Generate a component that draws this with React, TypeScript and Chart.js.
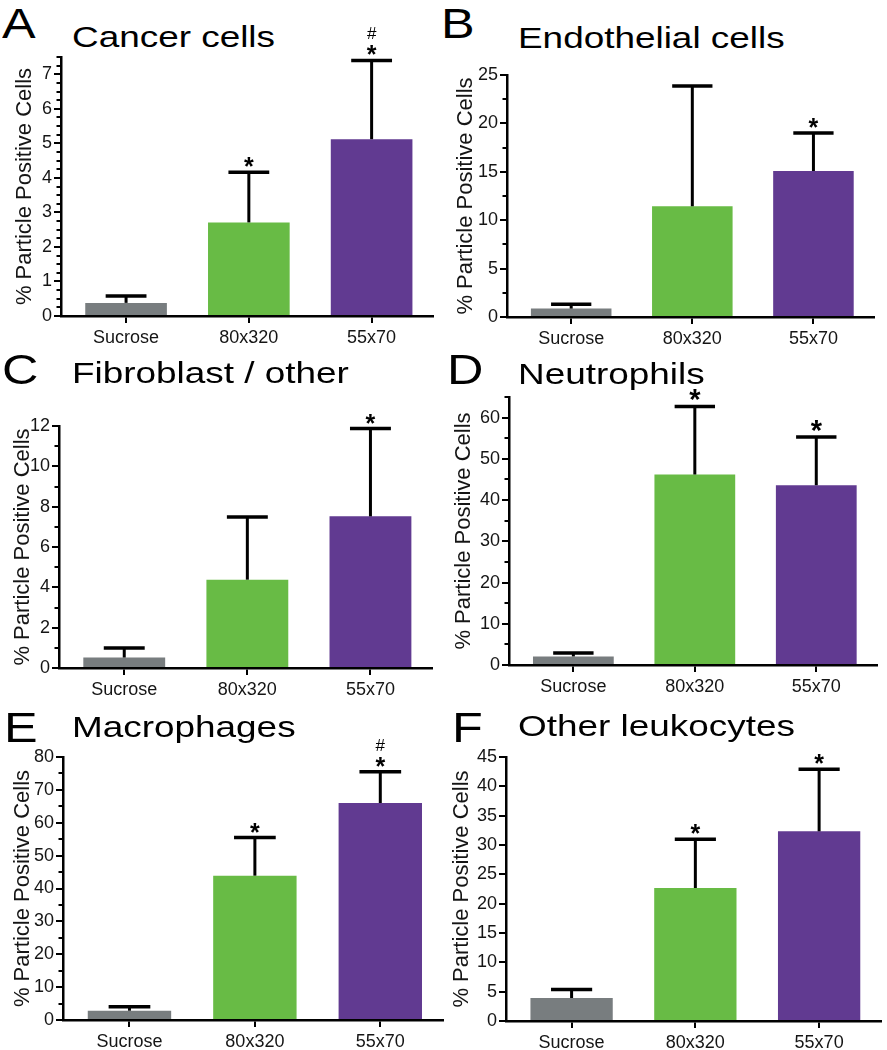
import React, { useEffect, useRef } from 'react';
import { Chart, registerables } from 'chart.js';

Chart.register(...registerables);

const FONT = "'Liberation Sans', Arial, Helvetica, sans-serif";
Chart.defaults.font.family = FONT;
Chart.defaults.color = '#111';

// ---------- data ----------
const categories = ['Sucrose', '80x320', '55x70'];
const barColors = ['#787d7f', '#68bb45', '#613a91'];
const yAxisTitle = '% Particle Positive Cells';

// A – Cancer cells
const cancerMean = [0.38, 2.71, 5.12];
const cancerErr = [0.2, 1.45, 2.28];
const cancerMarks = ['', '*', '*#'];
const cancerAxis = [7.5, 1, 0.25]; // max, major step, minor step

// B – Endothelial cells
const endoMean = [0.87, 11.44, 15.08];
const endoErr = [0.44, 12.43, 3.92];
const endoMarks = ['', '', '*'];
const endoAxis = [25, 5, 2.5];

// C – Fibroblast / other
const fibroMean = [0.52, 4.38, 7.52];
const fibroErr = [0.47, 3.11, 4.35];
const fibroMarks = ['', '', '*'];
const fibroAxis = [12, 2, 1];

// D – Neutrophils
const neutroMean = [2.08, 46.2, 43.6];
const neutroErr = [0.82, 16.5, 11.7];
const neutroMarks = ['', '*', '*'];
const neutroAxis = [65, 10, 5];

// E – Macrophages
const macroMean = [2.83, 43.9, 66.0];
const macroErr = [1.22, 11.6, 9.5];
const macroMarks = ['', '*', '*#'];
const macroAxis = [80, 10, 5];

// F – Other leukocytes
const leukoMean = [3.92, 22.67, 32.33];
const leukoErr = [1.43, 8.3, 10.57];
const leukoMarks = ['', '*', '*'];
const leukoAxis = [45, 5, 0];

const panels = [
  { letter: 'A', title: 'Cancer cells', mean: cancerMean, err: cancerErr, marks: cancerMarks, axis: cancerAxis },
  { letter: 'B', title: 'Endothelial cells', mean: endoMean, err: endoErr, marks: endoMarks, axis: endoAxis },
  { letter: 'C', title: 'Fibroblast / other', mean: fibroMean, err: fibroErr, marks: fibroMarks, axis: fibroAxis },
  { letter: 'D', title: 'Neutrophils', mean: neutroMean, err: neutroErr, marks: neutroMarks, axis: neutroAxis },
  { letter: 'E', title: 'Macrophages', mean: macroMean, err: macroErr, marks: macroMarks, axis: macroAxis },
  { letter: 'F', title: 'Other leukocytes', mean: leukoMean, err: leukoErr, marks: leukoMarks, axis: leukoAxis },
];

// ---------- layout / style ----------
const layouts = [
  { L: 61, R: 433, T: 57, B: 316, gap: 36, lx: 2, lb: 39, tx: 72, tb: 47, star: 25 },
  { L: 507, R: 874, T: 75, B: 317, gap: 41, lx: 441, lb: 39, tx: 518, tb: 48, star: 25 },
  { L: 59, R: 432, T: 426, B: 668, gap: 36, lx: 2, lb: 385, tx: 72, tb: 383, star: 25 },
  { L: 509, R: 877, T: 397, B: 665, gap: 45, lx: 447, lb: 385, tx: 518, tb: 384, star: 29 },
  { L: 63, R: 443, T: 757, B: 1020, gap: 40, lx: 4, lb: 743, tx: 72, tb: 737, star: 25 },
  { L: 506, R: 881, T: 757, B: 1021, gap: 44, lx: 452, lb: 743, tx: 518, tb: 736, star: 25 },
];

const Y_W = 62;
const X_H = 44;
const PAD_TOP = 40;
const PAD_RIGHT = 4;

const errorBarPlugin = {
  id: 'errBars',
  afterDatasetsDraw(chart: any, _args: any, opts: any) {
    const { ctx } = chart;
    const meta = chart.getDatasetMeta(0);
    const ys = chart.scales.y;
    const ds = chart.data.datasets[0].data;
    ctx.save();
    ctx.strokeStyle = '#000';
    ctx.fillStyle = '#000';
    ctx.lineCap = 'butt';
    meta.data.forEach((el: any, i: number) => {
      const { x, y, width } = el.getProps(['x', 'y', 'width'], true);
      const top = ys.getPixelForValue(ds[i].y + opts.err[i]);
      ctx.lineWidth = 3;
      ctx.beginPath();
      ctx.moveTo(x, y);
      ctx.lineTo(x, top);
      ctx.stroke();
      ctx.lineWidth = 3.5;
      ctx.beginPath();
      ctx.moveTo(x - width / 4, top);
      ctx.lineTo(x + width / 4, top);
      ctx.stroke();
      const mark: string = opts.marks[i] || '';
      ctx.textAlign = 'center';
      ctx.textBaseline = 'alphabetic';
      if (mark.includes('*')) {
        ctx.font = `bold ${opts.star}px ${FONT}`;
        ctx.fillText('*', x, top + 3);
      }
      if (mark.includes('#')) {
        ctx.font = `17px ${FONT}`;
        ctx.fillText('#', x, top - 21);
      }
    });
    ctx.restore();
  },
};

const minorTickPlugin = {
  id: 'minorTicks',
  afterDraw(chart: any, _args: any, opts: any) {
    const step = opts.step;
    if (!step) return;
    const ys = chart.scales.y;
    const left = chart.chartArea.left;
    const ctx = chart.ctx;
    ctx.save();
    ctx.strokeStyle = '#000';
    ctx.lineWidth = 2;
    const n = Math.round(ys.max / step);
    for (let k = 0; k <= n; k++) {
      const v = k * step;
      const r = v / opts.major;
      if (Math.abs(r - Math.round(r)) < 1e-6) continue;
      const py = Math.round(ys.getPixelForValue(v));
      ctx.beginPath();
      ctx.moveTo(left - 4.5, py);
      ctx.lineTo(left, py);
      ctx.stroke();
    }
    ctx.restore();
  },
};

function Panel({ p, lay }: { p: any; lay: any }) {
  const ref = useRef<HTMLCanvasElement>(null);
  const cw = Y_W + (lay.R - lay.L) + PAD_RIGHT;
  const ch = PAD_TOP + (lay.B - lay.T) + X_H;

  useEffect(() => {
    const [yMax, major, minor] = p.axis;
    const chart = new Chart(ref.current as HTMLCanvasElement, {
      type: 'bar',
      data: {
        datasets: [
          {
            data: p.mean.map((v: number, i: number) => ({ x: i, y: v })),
            backgroundColor: barColors,
            borderWidth: 0,
            barPercentage: 0.665,
            categoryPercentage: 1,
          } as any,
        ],
      },
      options: {
        responsive: false,
        animation: false,
        devicePixelRatio: 1,
        layout: { padding: { left: 0, right: PAD_RIGHT, top: PAD_TOP, bottom: 0 } },
        plugins: {
          legend: { display: false },
          tooltip: { enabled: false },
          title: { display: false },
          errBars: { err: p.err, marks: p.marks, star: lay.star },
          minorTicks: { step: minor, major },
        } as any,
        scales: {
          x: {
            type: 'linear',
            min: -0.53,
            max: 2.5,
            offset: false,
            afterBuildTicks: (s: any) => {
              s.ticks = categories.map((_c, i) => ({ value: i }));
            },
            afterFit: (s: any) => {
              s.height = X_H;
            },
            ticks: {
              callback: (v: any) => categories[v as number] ?? '',
              autoSkip: false,
              maxRotation: 0,
              minRotation: 0,
              font: { size: 18 },
              color: '#151515',
              padding: 4,
            },
            grid: { display: true, offset: false, drawOnChartArea: false, drawTicks: true, tickLength: 7, lineWidth: 2, color: '#000' },
            border: { display: true, color: '#000', width: 2.5 },
          } as any,
          y: {
            type: 'linear',
            min: 0,
            max: yMax,
            afterFit: (s: any) => {
              s.width = Y_W;
            },
            ticks: { stepSize: major, includeBounds: false, font: { size: 18 }, color: '#151515', padding: 2 },
            grid: { display: true, drawOnChartArea: false, drawTicks: true, tickLength: 7, lineWidth: 2, color: '#000' },
            border: { display: true, color: '#000', width: 2.5 },
            title: {
              display: true,
              text: yAxisTitle,
              font: { size: 22 },
              color: '#151515',
              padding: { top: Y_W - 13.2 - lay.gap, bottom: 0 },
            },
          } as any,
        },
      },
      plugins: [errorBarPlugin, minorTickPlugin],
    });
    return () => chart.destroy();
  }, []);

  const letterSize = 42;
  const titleSize = 30;
  return (
    <>
      <div
        style={{
          position: 'absolute',
          left: lay.lx,
          top: lay.lb - 0.8465 * letterSize,
          fontSize: letterSize,
          lineHeight: 1,
          fontFamily: FONT,
          color: '#000',
          whiteSpace: 'nowrap',
          transform: 'scaleX(1.2)',
          transformOrigin: 'left top',
        }}
      >
        {p.letter}
      </div>
      <div
        style={{
          position: 'absolute',
          left: lay.tx,
          top: lay.tb - 0.8465 * titleSize,
          fontSize: titleSize,
          lineHeight: 1,
          fontFamily: FONT,
          color: '#000',
          whiteSpace: 'nowrap',
          transform: 'scaleX(1.23)',
          transformOrigin: 'left top',
        }}
      >
        {p.title}
      </div>
      <canvas
        ref={ref}
        width={cw}
        height={ch}
        style={{
          position: 'absolute',
          left: lay.L - Y_W,
          top: lay.T - PAD_TOP,
          width: cw,
          height: ch,
        }}
      />
    </>
  );
}

export default function App() {
  return (
    <div
      style={{
        position: 'absolute',
        left: 0,
        top: 0,
        width: 887,
        height: 1050,
        background: '#fff',
        overflow: 'hidden',
      }}
    >
      {panels.map((p, i) => (
        <Panel key={i} p={p} lay={layouts[i]} />
      ))}
    </div>
  );
}
